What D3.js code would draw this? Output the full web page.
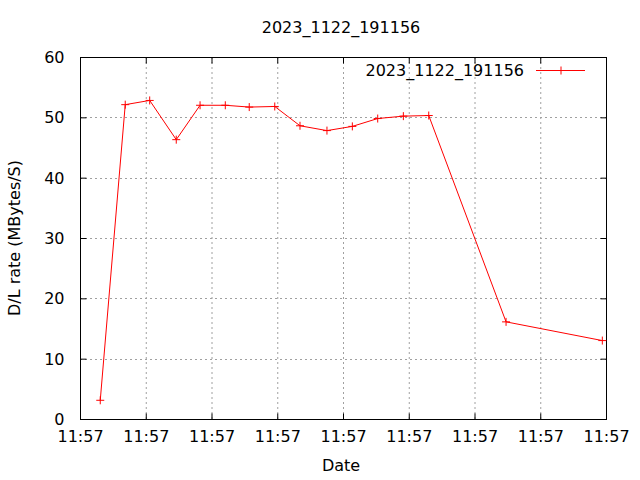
<!DOCTYPE html>
<html><head><meta charset="utf-8">
<script src="https://cdn.jsdelivr.net/npm/d3@7"></script>
<style>body{margin:0;background:#fff}svg{display:block}text{font-family:"DejaVu Sans",sans-serif;fill:#000}</style>
</head><body><svg id="c" width="640" height="480"></svg>
<script>
const title = "2023_1122_191156";
const seriesName = "2023_1122_191156";
const xLabel = "Date";
const yLabel = "D/L rate (MBytes/S)";
// seconds after 11:57:00
const seconds = [1.54,3.44,5.30,7.32,9.13,11.05,12.87,14.81,16.73,18.78,20.71,22.64,24.59,26.52,32.40,39.72];
const rates   = [3.1,52.1,52.8,46.3,52.0,52.0,51.7,51.8,48.6,47.8,48.5,49.8,50.2,50.3,16.1,13.0];
const yTicks = [0,10,20,30,40,50,60];
const xTickSeconds = [0,5,10,15,20,25,30,35,40];

const base = new Date(2023,10,22,11,57,0);
const toDate = s => new Date(base.getTime() + s*1000);
const data = seconds.map((s,i)=>({t:toDate(s), v:rates[i]}));

const FS = 16;
const L=80,R=606,T=57,B=419;
const svg = d3.select("#c");
const x = d3.scaleTime().domain([toDate(0),toDate(40)]).range([L,R]);
const y = d3.scaleLinear().domain([0,60]).range([B,T]);
const fmt = d3.timeFormat("%H:%M");
const xt = xTickSeconds.map(toDate);

// grid
const g = svg.append("g");
g.selectAll(".gx").data(xt.slice(1,-1)).join("line")
 .attr("x1",d=>x(d)+0.5).attr("x2",d=>x(d)+0.5).attr("y1",T).attr("y2",B)
 .attr("stroke","#a0a0a0").attr("stroke-dasharray","2,3");
g.selectAll(".gy").data(yTicks.slice(1,-1)).join("line")
 .attr("y1",d=>Math.round(y(d))+0.5).attr("y2",d=>Math.round(y(d))+0.5).attr("x1",L).attr("x2",R)
 .attr("stroke","#a0a0a0").attr("stroke-dasharray","2,3");

// axes
const axB = svg.append("g").attr("transform",`translate(0,${B+0.5})`)
 .call(d3.axisBottom(x).tickValues(xt).tickFormat(fmt).tickSizeInner(-6).tickSizeOuter(0).tickPadding(11));
const axT = svg.append("g").attr("transform",`translate(0,${T+0.5})`)
 .call(d3.axisTop(x).tickValues(xt).tickFormat("").tickSizeInner(-6).tickSizeOuter(0));
const axL = svg.append("g").attr("transform",`translate(${L+0.5},0)`)
 .call(d3.axisLeft(y).tickValues(yTicks).tickSizeInner(-6).tickSizeOuter(0).tickPadding(16));
const axR = svg.append("g").attr("transform",`translate(${R+0.5},0)`)
 .call(d3.axisRight(y).tickValues(yTicks).tickFormat("").tickSizeInner(-6).tickSizeOuter(0));
[axB,axT,axL,axR].forEach(a=>{
  a.selectAll(".domain").remove();
  a.selectAll("line").attr("stroke","#000");
  a.selectAll("text").attr("font-family","DejaVu Sans").attr("font-size",FS).attr("fill","#000");
});
axL.selectAll("text").attr("dy","0.35em");
svg.append("rect").attr("x",L+0.5).attr("y",T+0.5).attr("width",R-L).attr("height",B-T)
 .attr("fill","none").attr("stroke","#000").attr("stroke-width",1);

// line
const line = d3.line().x(d=>x(d.t)).y(d=>y(d.v));
svg.append("path").datum(data).attr("d",line).attr("fill","none").attr("stroke","#f00").attr("stroke-width",1);
const plus = (sel,px,py)=>{
  sel.append("line").attr("x1",px-4).attr("x2",px+4).attr("y1",py).attr("y2",py).attr("stroke","#f00");
  sel.append("line").attr("x1",px).attr("x2",px).attr("y1",py-4).attr("y2",py+4).attr("stroke","#f00");
};
const pts = svg.append("g");
data.forEach(d=>plus(pts,x(d.t),y(d.v)));

// legend
svg.append("text").attr("x",524).attr("y",70).attr("dy","0.35em").attr("text-anchor","end")
 .attr("font-size",FS).text(seriesName);
svg.append("line").attr("x1",536).attr("x2",585).attr("y1",70.5).attr("y2",70.5).attr("stroke","#f00");
plus(svg,561,70.5);

// titles
svg.append("text").attr("x",341).attr("y",27).attr("dy","0.35em").attr("text-anchor","middle").attr("font-size",FS).text(title);
svg.append("text").attr("x",341).attr("y",465).attr("dy","0.35em").attr("text-anchor","middle").attr("font-size",FS).text(xLabel);
svg.append("text").attr("transform","translate(14,238) rotate(-90)").attr("dy","0.35em").attr("text-anchor","middle").attr("font-size",FS).text(yLabel);
</script></body></html>
